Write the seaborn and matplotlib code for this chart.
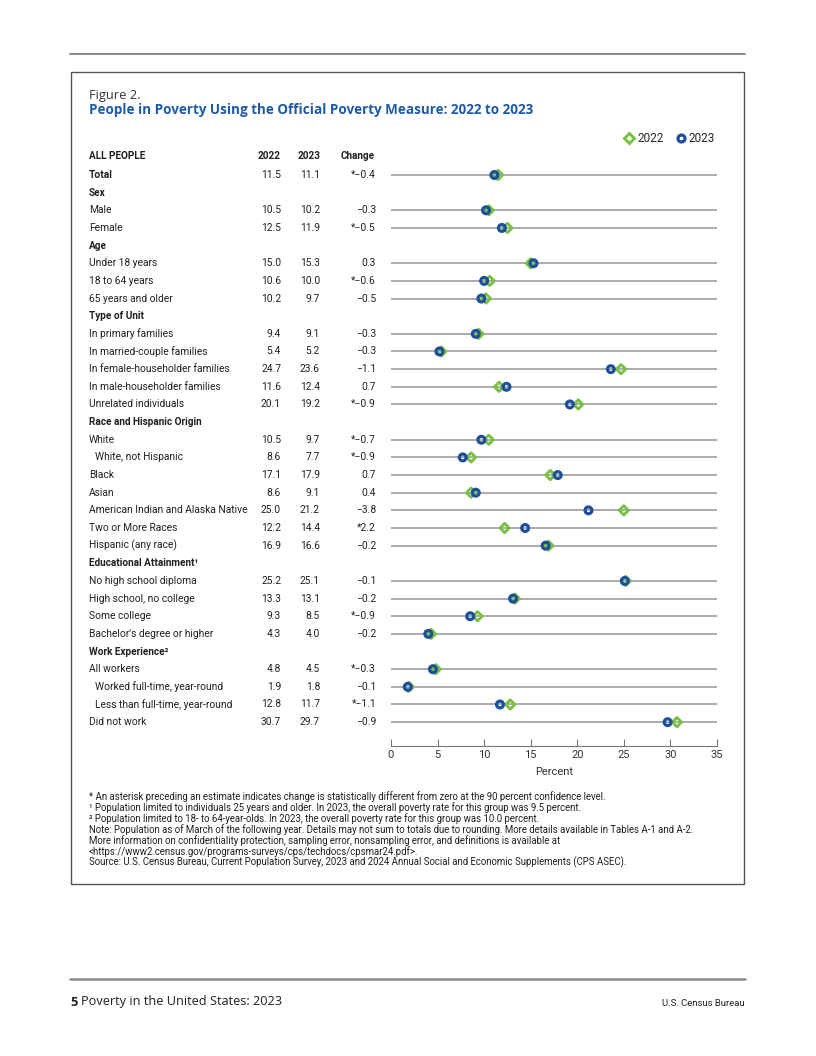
import matplotlib
matplotlib.use("Agg")
import matplotlib.pyplot as plt
import matplotlib.transforms as mtransforms
from matplotlib.lines import Line2D
from matplotlib.patches import Rectangle
import seaborn as sns
import pandas as pd

# ---------------- data ----------------
categories = [
    "Total",
    "Male", "Female",
    "Under 18 years", "18 to 64 years", "65 years and older",
    "In primary families", "In married-couple families",
    "In female-householder families", "In male-householder families",
    "Unrelated individuals",
    "White", "White, not Hispanic", "Black", "Asian",
    "American Indian and Alaska Native", "Two or More Races", "Hispanic (any race)",
    "No high school diploma", "High school, no college", "Some college",
    "Bachelor's degree or higher",
    "All workers", "Worked full-time, year-round",
    "Less than full-time, year-round", "Did not work",
]
groups = [
    "",
    "Sex", "Sex",
    "Age", "Age", "Age",
    "Type of Unit", "Type of Unit", "Type of Unit", "Type of Unit", "Type of Unit",
    "Race and Hispanic Origin", "Race and Hispanic Origin", "Race and Hispanic Origin",
    "Race and Hispanic Origin", "Race and Hispanic Origin", "Race and Hispanic Origin",
    "Race and Hispanic Origin",
    "Educational Attainment¹", "Educational Attainment¹", "Educational Attainment¹",
    "Educational Attainment¹",
    "Work Experience²", "Work Experience²", "Work Experience²", "Work Experience²",
]
indented = ["White, not Hispanic", "Worked full-time, year-round",
            "Less than full-time, year-round"]
v2022 = [11.5, 10.5, 12.5, 15.0, 10.6, 10.2, 9.4, 5.4, 24.7, 11.6, 20.1,
         10.5, 8.6, 17.1, 8.6, 25.0, 12.2, 16.9, 25.2, 13.3, 9.3, 4.3,
         4.8, 1.9, 12.8, 30.7]
v2023 = [11.1, 10.2, 11.9, 15.3, 10.0, 9.7, 9.1, 5.2, 23.6, 12.4, 19.2,
         9.7, 7.7, 17.9, 9.1, 21.2, 14.4, 16.6, 25.1, 13.1, 8.5, 4.0,
         4.5, 1.8, 11.7, 29.7]
change = ["*\u22120.4", "\u22120.3", "*\u22120.5", "0.3", "*\u22120.6", "\u22120.5",
          "\u22120.3", "\u22120.3", "\u22121.1", "0.7", "*\u22120.9",
          "*\u22120.7", "*\u22120.9", "0.7", "0.4", "\u22123.8", "*2.2", "\u22120.2",
          "\u22120.1", "\u22120.2", "*\u22120.9", "\u22120.2",
          "*\u22120.3", "\u22120.1", "*\u22121.1", "\u22120.9"]
years = ["2022", "2023"]
x_ticks = [0, 5, 10, 15, 20, 25, 30, 35]

footnotes = [
    "* An asterisk preceding an estimate indicates change is statistically different from zero at the 90 percent confidence level.",
    "\u00b9 Population limited to individuals 25 years and older. In 2023, the overall poverty rate for this group was 9.5 percent.",
    "\u00b2 Population limited to 18- to 64-year-olds. In 2023, the overall poverty rate for this group was 10.0 percent.",
    "Note: Population as of March of the following year. Details may not sum to totals due to rounding. More details available in Tables A-1 and A-2.",
    "More information on confidentiality protection, sampling error, nonsampling error, and definitions is available at",
    "<https://www2.census.gov/programs-surveys/cps/techdocs/cpsmar24.pdf>.",
    "Source: U.S. Census Bureau, Current Population Survey, 2023 and 2024 Annual Social and Economic Supplements (CPS ASEC).",
]

# ---------------- layout of rows ----------------
positions = []
headers = []  # (pos, text)
pos = 0
prev = None
for c, g in zip(categories, groups):
    if g and g != prev:
        headers.append((pos, g))
        pos += 1
    prev = g
    positions.append(pos)
    pos += 1

df = pd.DataFrame({
    "category": categories * 2,
    "pos": positions * 2,
    "value": v2022 + v2023,
    "year": [years[0]] * len(categories) + [years[1]] * len(categories),
})

# ---------------- figure ----------------
sns.set_theme(style="white")
FONT = ["Roboto", "DejaVu Sans"]
plt.rcParams["font.family"] = FONT
W, H = 816, 1056
fig = plt.figure(figsize=(W / 100, H / 100), dpi=100)

def fx(x):
    return x / W

def fy(y):
    return 1 - y / H

GREEN = "#7ac143"
BLUE = "#1d4f9a"
TITLE_BLUE = "#1f5aa6"
TXT = "#231f20"

# frame lines
fig.add_artist(Line2D([fx(70), fx(745)], [fy(54), fy(54)], color="#8a8a8a", lw=1.4))
fig.add_artist(Rectangle((fx(71), fy(884)), fx(744) - fx(71), fy(72) - fy(884),
                         transform=fig.transFigure, fill=False, ec="#555555", lw=1.0))
fig.add_artist(Line2D([fx(70), fx(745)], [fy(979), fy(979)], color="#8a8a8a", lw=1.8))

# titles
fig.text(fx(89), fy(95), "Figure 2.", fontsize=9.3, color="#333333", va="center", ha="left",
         family=["Open Sans", "DejaVu Sans"])
fig.text(fx(89), fy(110), "People in Poverty Using the Official Poverty Measure: 2022 to 2023",
         fontsize=9.75, color=TITLE_BLUE, fontweight="bold", va="center", ha="left",
         family=["Open Sans", "DejaVu Sans"])

# axes
y_top, y_bot = 148.5, 746
step = 17.65
row0 = 175
ax = fig.add_axes([fx(391), fy(y_bot), fx(717) - fx(391), fy(y_top) - fy(y_bot)])
ax.set_xlim(0, 35)
ax.set_ylim((y_bot - row0) / step, (y_top - row0) / step)

for p in positions:
    ax.axhline(p, color="#9d9d9d", lw=1.2, zorder=1)

sub22 = df[df["year"] == years[0]]
sub23 = df[df["year"] == years[1]]
sns.scatterplot(data=sub22, x="value", y="pos", marker="D", s=22, color="none",
                edgecolor=GREEN, linewidth=2.1, ax=ax, zorder=3, legend=False)
sns.scatterplot(data=sub23, x="value", y="pos", marker="o", s=24, color="none",
                edgecolor=BLUE, linewidth=2.3, ax=ax, zorder=4, legend=False)

ax.set_ylabel("")
ax.set_yticks([])
ax.set_xticks(x_ticks)
ax.set_xticklabels([str(t) for t in x_ticks], fontsize=8, color="#333333")
ax.tick_params(axis="x", direction="in", length=5, width=0.8, color="#777777", pad=3, bottom=True)
ax.set_xlabel("Percent", fontsize=8, color="#333333", labelpad=5)
for s in ["top", "right", "left"]:
    ax.spines[s].set_visible(False)
ax.spines["bottom"].set_color("#777777")
ax.spines["bottom"].set_linewidth(0.8)
ax.set_facecolor("none")

# legend
handles = [
    Line2D([], [], marker="D", ls="", ms=4.8, mfc="none", mec=GREEN, mew=2.1),
    Line2D([], [], marker="o", ls="", ms=5.0, mfc="none", mec=BLUE, mew=2.3),
]
fig.legend(handles, years, loc="center right", bbox_to_anchor=(fx(720), fy(139)),
           ncol=2, frameon=False, fontsize=8.5, handletextpad=0.15, columnspacing=1.0,
           handlelength=1.0, borderaxespad=0)

# table text
tr = mtransforms.blended_transform_factory(fig.transFigure, ax.transData)
hdr_y = -1.07
ax.text(fx(89), hdr_y, "ALL PEOPLE", transform=tr, fontsize=7.2, fontweight="bold",
        color=TXT, va="center", ha="left")
ax.text(fx(269), hdr_y, years[0], transform=tr, fontsize=7.2, fontweight="bold",
        color=TXT, va="center", ha="center")
ax.text(fx(309), hdr_y, years[1], transform=tr, fontsize=7.2, fontweight="bold",
        color=TXT, va="center", ha="center")
ax.text(fx(358), hdr_y, "Change", transform=tr, fontsize=7.2, fontweight="bold",
        color=TXT, va="center", ha="center")

for p, h in headers:
    ax.text(fx(89), p, h, transform=tr, fontsize=7.2, fontweight="bold",
            color=TXT, va="center", ha="left")

for c, p, a, b, ch in zip(categories, positions, v2022, v2023, change):
    bold = c == "Total"
    x0 = 95 if c in indented else 89
    ax.text(fx(x0), p, c, transform=tr, fontsize=7.4,
            fontweight="bold" if bold else "normal", color=TXT, va="center", ha="left")
    ax.text(fx(281), p, f"{a:.1f}", transform=tr, fontsize=7.4, color=TXT,
            va="center", ha="right")
    ax.text(fx(320), p, f"{b:.1f}", transform=tr, fontsize=7.4, color=TXT,
            va="center", ha="right")
    ax.text(fx(376), p, ch, transform=tr, fontsize=7.4, color=TXT,
            va="center", ha="right")

# footnotes
for i, line in enumerate(footnotes):
    fig.text(fx(89), fy(797 + i * 10.9), line, fontsize=6.9, color=TXT,
             va="center", ha="left")

# footer
fig.text(fx(70), fy(1002), "5", fontsize=9.3, fontweight="bold", color=TXT,
         va="center", ha="left", family=["Open Sans", "DejaVu Sans"])
fig.text(fx(81), fy(1002), "Poverty in the United States: 2023", fontsize=9.2,
         color=TXT, va="center", ha="left", family=["Open Sans", "DejaVu Sans"])
fig.text(fx(745), fy(1003), "U.S. Census Bureau", fontsize=6.8, color=TXT,
         va="center", ha="right")

fig.savefig("out.png", dpi=100)
